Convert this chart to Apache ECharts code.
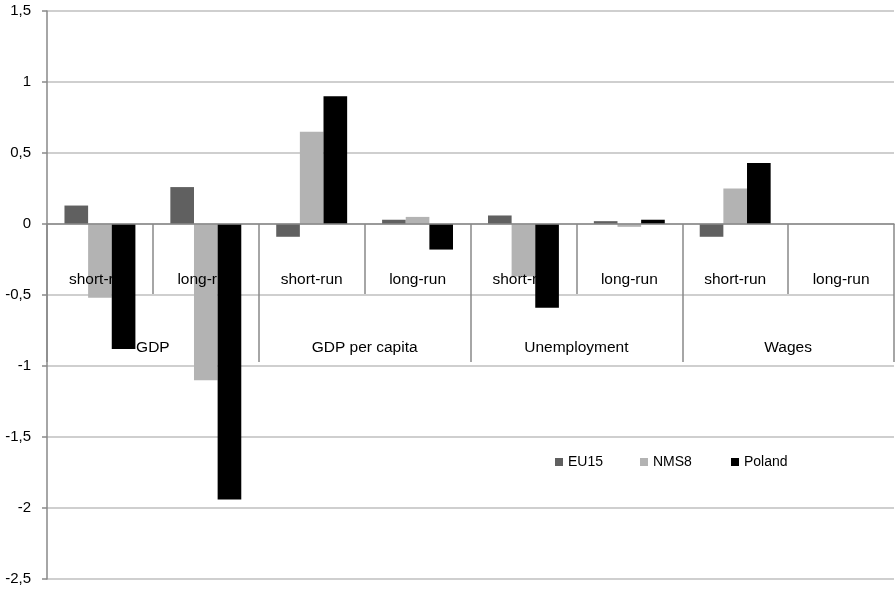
<!DOCTYPE html>
<html>
<head>
<meta charset="utf-8">
<script src="https://cdn.jsdelivr.net/npm/echarts@6/dist/echarts.min.js"></script>
<style>html,body{margin:0;padding:0;background:#fff}#c{width:895px;height:590px}</style>
</head>
<body>
<div id="c"></div>
<script>
var categories = ['short-run','long-run','short-run','long-run','short-run','long-run','short-run','long-run'];
var groups = ['GDP','GDP per capita','Unemployment','Wages'];
var seriesNames = ['EU15','NMS8','Poland'];
var eu15 = [0.13, 0.26, -0.09, 0.03, 0.06, 0.02, -0.09, 0];
var nms8 = [-0.52, -1.10, 0.65, 0.05, -0.37, -0.02, 0.25, 0];
var poland = [-0.88, -1.94, 0.90, -0.18, -0.59, 0.03, 0.43, 0];
var colors = ['#606060', '#b3b3b3', '#000000'];

var FONT = 'Liberation Sans';
var GRID_TOP = 11, GRID_BOTTOM = 11, H = 590;
var yMin = -2.5, yMax = 1.5;
var plotH = H - GRID_TOP - GRID_BOTTOM;
var zeroOffset = -plotH * (0 - yMin) / (yMax - yMin); // move bottom axis up to value 0

var chart = echarts.init(document.getElementById('c'), null, {renderer:'canvas'});
function legendAt(name, left) {
  return {
    data: [name], left: left, top: 455, itemWidth: 8, itemHeight: 8, icon: 'rect',
    textStyle: {fontFamily: FONT, fontSize: 14, color: '#000'}, itemGap: 0, padding: 0,
    selectedMode: false
  };
}
chart.setOption({
  animation: false,
  textStyle: {fontFamily: FONT},
  grid: {left: 47, right: 1, top: GRID_TOP, bottom: GRID_BOTTOM, containLabel: false, outerBoundsMode: 'none'},
  legend: [legendAt(seriesNames[0], 555), legendAt(seriesNames[1], 640), legendAt(seriesNames[2], 731)],
  xAxis: [
    {
      type: 'category', data: categories, position: 'bottom', offset: zeroOffset, z: 10,
      axisLine: {show: true, onZero: false, lineStyle: {color: '#898989', width: 1.5}},
      axisTick: {show: true, length: 70, interval: 0, lineStyle: {color: '#898989', width: 1.5}},
      axisLabel: {interval: 0, margin: 56, verticalAlign: 'middle', fontFamily: FONT, fontSize: 15.5, color: '#000'},
      splitLine: {show: false}
    },
    {
      type: 'category', data: groups, position: 'bottom', offset: zeroOffset, z: 10,
      axisLine: {show: false, onZero: false},
      axisTick: {show: true, length: 138, interval: 0, lineStyle: {color: '#898989', width: 1.5}},
      axisLabel: {interval: 0, margin: 124, verticalAlign: 'middle', fontFamily: FONT, fontSize: 15.5, color: '#000'},
      splitLine: {show: false}
    }
  ],
  yAxis: {
    type: 'value', min: yMin, max: yMax, interval: 0.5,
    axisLine: {show: true, onZero: false, lineStyle: {color: '#898989', width: 1.5}},
    axisTick: {show: true, length: 5, lineStyle: {color: '#898989', width: 1.5}},
    axisLabel: {margin: 16, fontFamily: FONT, fontSize: 15, color: '#000',
      formatter: function (v) { return String(Math.round(v * 10) / 10).replace('.', ','); }},
    splitLine: {show: true, lineStyle: {color: '#bfbfbf', width: 1.5}}
  },
  series: [
    {name: seriesNames[0], type: 'bar', data: eu15, itemStyle: {color: colors[0]}, barGap: '0%', barCategoryGap: '33%'},
    {name: seriesNames[1], type: 'bar', data: nms8, itemStyle: {color: colors[1]}, barGap: '0%', barCategoryGap: '33%'},
    {name: seriesNames[2], type: 'bar', data: poland, itemStyle: {color: colors[2]}, barGap: '0%', barCategoryGap: '33%'}
  ]
});
</script>
</body>
</html>
